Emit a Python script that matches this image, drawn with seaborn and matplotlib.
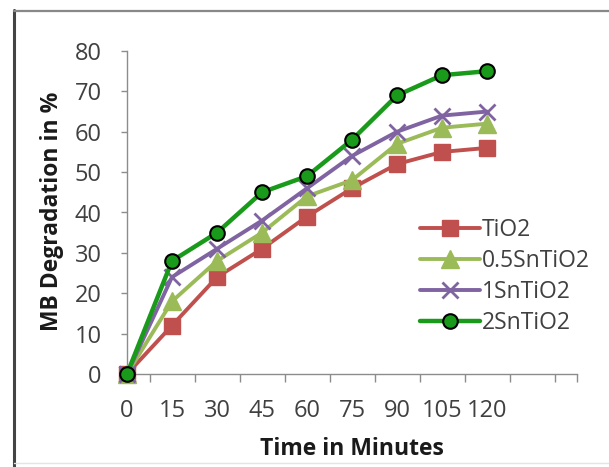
import matplotlib
matplotlib.use("Agg")
import matplotlib.pyplot as plt
from matplotlib.lines import Line2D
import seaborn as sns
import numpy as np

# ---- data ----
times = [0, 15, 30, 45, 60, 75, 90, 105, 120]
tick_labels = ["0", "15", "30", "45", "60", "75", "90", "105", "120"]
series_names = ["TiO2", "0.5SnTiO2", "1SnTiO2", "2SnTiO2"]
tio2 = [0, 12, 24, 31, 39, 46, 52, 55, 56]
sn05 = [0, 18, 28, 35, 44, 48, 57, 61, 62]
sn1 = [0, 24, 31, 38, 46, 54, 60, 64, 65]
sn2 = [0, 28, 35, 45, 49, 58, 69, 74, 75]

sns.set_style("white")
plt.rcParams["font.family"] = ["Open Sans", "DejaVu Sans"]

W, H = 609, 467
fig = plt.figure(figsize=(W / 100, H / 100), dpi=100)
ax = fig.add_axes([127 / W, 1 - 374 / H, 450 / W, (374 - 51) / H])

specs = [
    (series_names[0], tio2, "#C0504D", "s", 12, "#C0504D", "#C0504D", 1.0, 2.8),
    (series_names[1], sn05, "#9BBB59", "^", 13, "#9BBB59", "#9BBB59", 1.0, 2.8),
    (series_names[2], sn1, "#8064A2", "x", 12, "#8064A2", "#8064A2", 2.0, 2.8),
    (series_names[3], sn2, "#1A9A1A", "o", 10.5, "#1A9A1A", "#000000", 1.5, 3.2),
]
for name, vals, col, mk, ms, mfc, mec, mew, lw in specs:
    sns.lineplot(x=times, y=vals, ax=ax, color=col, marker=mk, markersize=ms,
                 markerfacecolor=mfc, markeredgecolor=mec, markeredgewidth=mew,
                 linewidth=lw, label=name, clip_on=False, zorder=3)

ax.set_xlim(0, 150)
ax.set_ylim(0, 80)
ax.set_xticks(times)
ax.set_xticklabels(tick_labels)
ax.set_xticks(np.arange(7.5, 150, 15).tolist() + [150], minor=True)
ax.set_yticks(range(0, 81, 10))

for s in ["top", "right"]:
    ax.spines[s].set_visible(False)
for s in ["left", "bottom"]:
    ax.spines[s].set_color("#8C8C8C")
    ax.spines[s].set_linewidth(1.0)

ax.tick_params(axis="x", which="major", length=0, pad=18, labelsize=17, labelcolor="#404040")
ax.tick_params(axis="x", which="minor", direction="out", length=5.5, width=1, color="#8C8C8C", bottom=True)
ax.tick_params(axis="y", which="major", direction="out", length=4.3, width=1, color="#8C8C8C",
               pad=14, labelsize=17, labelcolor="#404040", left=True)

ax.set_xlabel("Time in Minutes", fontsize=16.5, fontweight="bold", color="#1A1A1A")
ax.set_ylabel("MB Degradation in %", fontsize=16.5, fontweight="bold", color="#1A1A1A", va="center")
ax.xaxis.set_label_coords(0.5, -0.195)
ax.yaxis.set_label_coords(-0.167, 0.505)

handles, labels = ax.get_legend_handles_labels()
leg = ax.legend(handles, labels, loc="center left", bbox_to_anchor=(420 / W, 1 - 276.5 / H),
                bbox_transform=fig.transFigure, frameon=False, fontsize=16.5,
                handlelength=2.6, handletextpad=0.1, labelspacing=0.3, borderpad=0,
                borderaxespad=0)
for t in leg.get_texts():
    t.set_color("#404040")

# screenshot frame edges
fig.add_artist(Line2D([14 / W, 14 / W], [0, 1 - 10 / H], transform=fig.transFigure, color="#444444", lw=2.2))
fig.add_artist(Line2D([14 / W, 1], [1 - 11 / H, 1 - 11 / H], transform=fig.transFigure, color="#888888", lw=1.6))
fig.add_artist(Line2D([14 / W, 1], [1 - 463 / H, 1 - 463 / H], transform=fig.transFigure, color="#E4E4E4", lw=1))

fig.savefig("out.png", dpi=100)
